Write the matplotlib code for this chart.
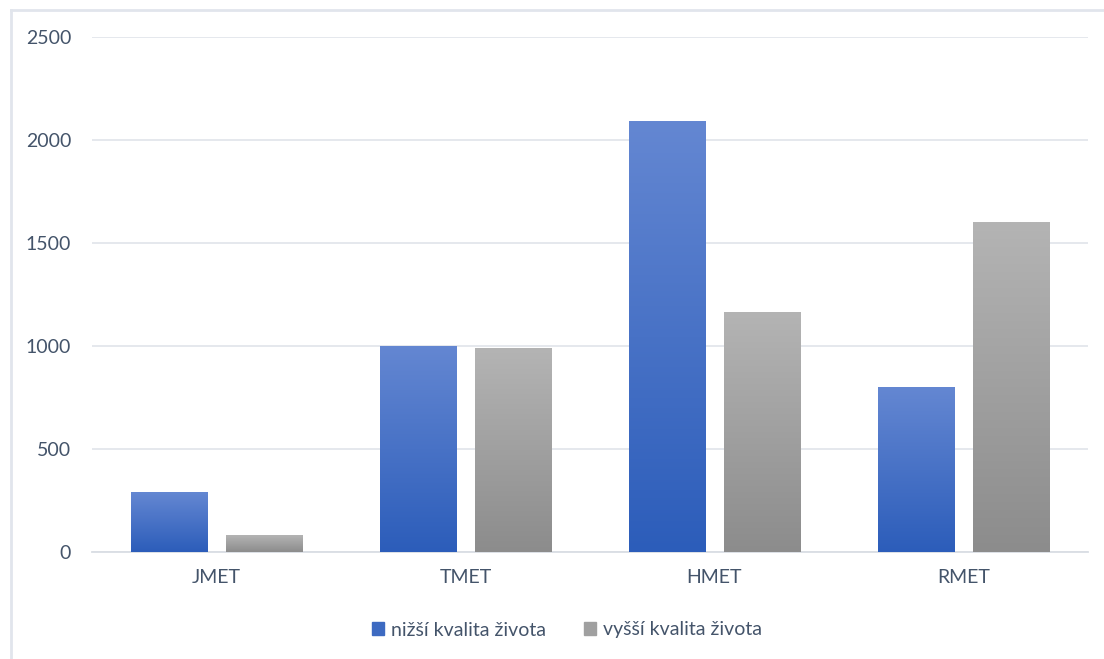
import matplotlib
matplotlib.use('Agg')
import matplotlib.pyplot as plt
import numpy as np
from matplotlib.colors import LinearSegmentedColormap
from matplotlib.lines import Line2D

# Data
categories = ['JMET', 'TMET', 'HMET', 'RMET']
series_names = ['nižší kvalita života', 'vyšší kvalita života']
low_quality = [290, 1000, 2090, 800]
high_quality = [82, 990, 1165, 1600]

text_color = '#44546A'
grid_color = '#E3E6EC'
plt.rcParams['font.family'] = ['Lato', 'DejaVu Sans']

blue_cmap = LinearSegmentedColormap.from_list('blue', ['#2C5DBA', '#6487D2'])
gray_cmap = LinearSegmentedColormap.from_list('gray', ['#8C8C8C', '#B4B4B4'])

fig = plt.figure(figsize=(11.04, 6.59), dpi=100)
ax = fig.add_axes([92 / 1104, 1 - 552 / 659, (1088 - 92) / 1104, (552 - 37) / 659])

x = np.arange(len(categories))
width = 0.306
offset = 0.191
grad = np.linspace(0, 1, 256).reshape(-1, 1)

def gradient_bars(xpos, values, cmap, label):
    bars = ax.bar(xpos, values, width, color=cmap(0.5), label=label, zorder=2,
                  edgecolor='none')
    for b in bars:
        x0, y0 = b.get_x(), b.get_y()
        w, h = b.get_width(), b.get_height()
        im = ax.imshow(grad, cmap=cmap, origin='lower', aspect='auto',
                       extent=[x0, x0 + w, y0, y0 + h], zorder=3,
                       interpolation='bilinear')
        im.set_clip_path(b)
    return bars

gradient_bars(x - offset, low_quality, blue_cmap, series_names[0])
gradient_bars(x + offset, high_quality, gray_cmap, series_names[1])

ax.set_xlim(-0.5, len(categories) - 0.5)
ax.set_ylim(0, 2500)
ax.set_yticks(np.arange(0, 2501, 500))
ax.set_xticks(x)
ax.set_xticklabels(categories)
ax.yaxis.grid(True, color=grid_color, linewidth=1.3, zorder=0)
ax.set_axisbelow(True)
for s in ['top', 'right', 'left']:
    ax.spines[s].set_visible(False)
ax.spines['bottom'].set_color('#D9DDE4')
ax.spines['bottom'].set_linewidth(1.3)
ax.tick_params(axis='both', length=0, labelsize=14, colors=text_color)
ax.tick_params(axis='y', pad=15)
ax.tick_params(axis='x', pad=12)

handles = [plt.Rectangle((0, 0), 1, 1, color=blue_cmap(0.3)),
           plt.Rectangle((0, 0), 1, 1, color=gray_cmap(0.5))]
fig.legend(handles, series_names, loc='center', bbox_to_anchor=(567 / 1104, 1 - 630 / 659),
           ncol=2, frameon=False, fontsize=14, labelcolor=text_color,
           handlelength=0.6, handleheight=0.6, handletextpad=0.35, columnspacing=2.0)

# outer frame
fig.add_artist(Line2D([11 / 1104, 11 / 1104], [0, 1 - 10 / 659], color='#E1E5EC', linewidth=2,
                      transform=fig.transFigure))
fig.add_artist(Line2D([11 / 1104, 1], [1 - 10 / 659, 1 - 10 / 659], color='#E1E5EC', linewidth=2,
                      transform=fig.transFigure))

fig.savefig('out.png', dpi=100)
